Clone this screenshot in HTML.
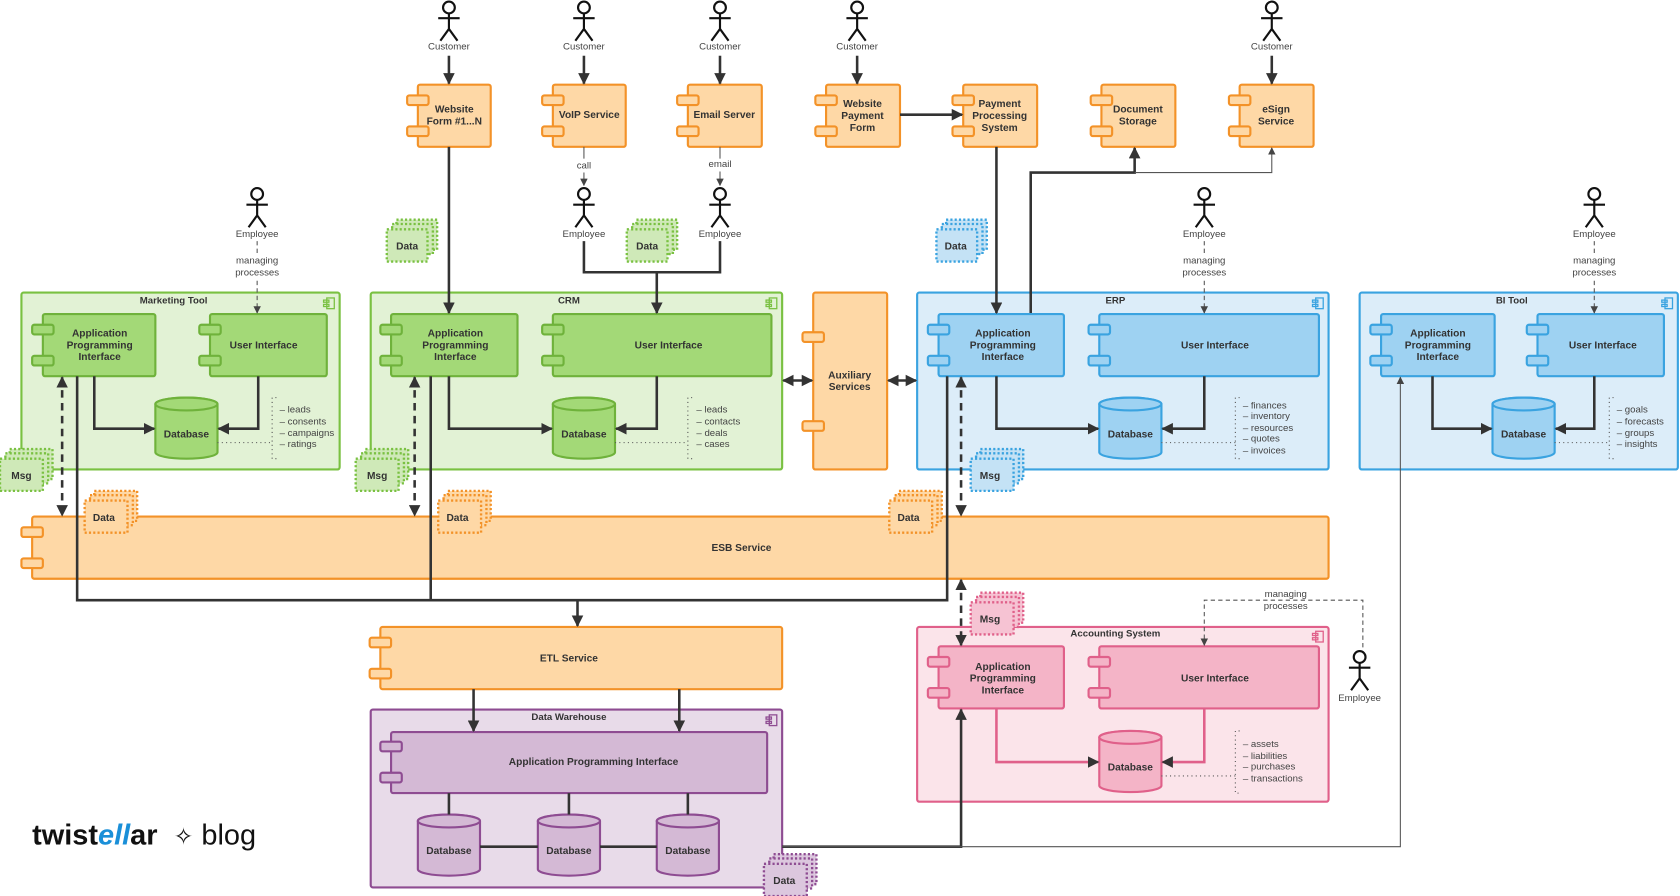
<!DOCTYPE html>
<html><head><meta charset="utf-8"><style>
html,body{margin:0;padding:0;background:#fff;}
svg{display:block;}
text{font-family:"Liberation Sans",sans-serif;}
.b{font-weight:bold;font-size:9.5px;fill:#333;text-anchor:middle;}
.t{font-weight:bold;font-size:9px;fill:#333;text-anchor:middle;}
.l{font-size:9px;fill:#444;text-anchor:middle;}
.n{font-size:9px;fill:#444;}
.ln{stroke:#333;stroke-width:2.4;fill:none;}
.th{stroke:#555;stroke-width:1;fill:none;}
.ds{stroke:#333;stroke-width:2.4;fill:none;stroke-dasharray:7 5;}
.dt{stroke:#555;stroke-width:1;fill:none;stroke-dasharray:1 3;}
</style></head><body>
<svg width="1680" height="896" viewBox="0 0 1568 836" preserveAspectRatio="none" xmlns="http://www.w3.org/2000/svg">
<defs>
<marker id="a" viewBox="0 0 10 10" refX="9" refY="5" markerWidth="4.5" markerHeight="4.5" orient="auto-start-reverse"><path d="M0,0L10,5L0,10z" fill="#333"/></marker>
<marker id="s" viewBox="0 0 10 10" refX="9" refY="5" markerWidth="7" markerHeight="7" orient="auto-start-reverse"><path d="M0,0L10,5L0,10z" fill="#444"/></marker>
<g id="actor" stroke="#111" stroke-width="2" fill="none"><circle cx="0" cy="7" r="5.5" fill="#fff"/><path d="M0,12.5V27M-10,17H10M0,27L-8,38M0,27L8,38"/></g>
</defs>

<!-- containers -->
<g stroke-width="2">
<rect x="20" y="273" width="297" height="165" rx="2" fill="#e2f2d5" stroke="#7ac142"/>
<rect x="346" y="273" width="384" height="165" rx="2" fill="#e2f2d5" stroke="#7ac142"/>
<rect x="856" y="273" width="384" height="165" rx="2" fill="#dcedf9" stroke="#3aa3e0"/>
<rect x="1269" y="273" width="297" height="165" rx="2" fill="#dcedf9" stroke="#3aa3e0"/>
<rect x="856" y="585" width="384" height="163" rx="2" fill="#fbe4ea" stroke="#e0608a"/>
<rect x="346" y="662" width="384" height="166" rx="2" fill="#e8dbe9" stroke="#8e4c92"/>
</g>
<text class="t" x="162" y="283">Marketing Tool</text>
<text class="t" x="531" y="283">CRM</text>
<text class="t" x="1041" y="283">ERP</text>
<text class="t" x="1411" y="283">BI Tool</text>
<text class="t" x="1041" y="594">Accounting System</text>
<text class="t" x="531" y="672">Data Warehouse</text>
<!-- container icons -->
<g fill="none" stroke-width="1.2">
<g stroke="#7ac142"><rect x="305" y="278" width="7" height="10"/><rect x="302" y="280" width="5" height="2"/><rect x="302" y="284" width="5" height="2"/></g>
<g stroke="#7ac142"><rect x="718" y="278" width="7" height="10"/><rect x="715" y="280" width="5" height="2"/><rect x="715" y="284" width="5" height="2"/></g>
<g stroke="#3aa3e0"><rect x="1228" y="278" width="7" height="10"/><rect x="1225" y="280" width="5" height="2"/><rect x="1225" y="284" width="5" height="2"/></g>
<g stroke="#3aa3e0"><rect x="1554" y="278" width="7" height="10"/><rect x="1551" y="280" width="5" height="2"/><rect x="1551" y="284" width="5" height="2"/></g>
<g stroke="#e0608a"><rect x="1228" y="589" width="7" height="10"/><rect x="1225" y="591" width="5" height="2"/><rect x="1225" y="595" width="5" height="2"/></g>
<g stroke="#8e4c92"><rect x="718" y="667" width="7" height="10"/><rect x="715" y="669" width="5" height="2"/><rect x="715" y="673" width="5" height="2"/></g>
</g>

<!-- components: orange -->
<g fill="#fed8a6" stroke="#f39228" stroke-width="2">
<rect x="390" y="79" width="68" height="58" rx="2"/><rect x="380" y="89" width="20" height="9" rx="2"/><rect x="380" y="118" width="20" height="9" rx="2"/>
<rect x="516" y="79" width="68" height="58" rx="2"/><rect x="506" y="89" width="20" height="9" rx="2"/><rect x="506" y="118" width="20" height="9" rx="2"/>
<rect x="642" y="79" width="69" height="58" rx="2"/><rect x="632" y="89" width="20" height="9" rx="2"/><rect x="632" y="118" width="20" height="9" rx="2"/>
<rect x="771" y="79" width="69" height="58" rx="2"/><rect x="761" y="89" width="20" height="9" rx="2"/><rect x="761" y="118" width="20" height="9" rx="2"/>
<rect x="899" y="79" width="69" height="58" rx="2"/><rect x="889" y="89" width="20" height="9" rx="2"/><rect x="889" y="118" width="20" height="9" rx="2"/>
<rect x="1028" y="79" width="69" height="58" rx="2"/><rect x="1018" y="89" width="20" height="9" rx="2"/><rect x="1018" y="118" width="20" height="9" rx="2"/>
<rect x="1157" y="79" width="69" height="58" rx="2"/><rect x="1147" y="89" width="20" height="9" rx="2"/><rect x="1147" y="118" width="20" height="9" rx="2"/>
<rect x="759" y="273" width="69" height="165" rx="2"/><rect x="749" y="310" width="20" height="9" rx="2"/><rect x="749" y="393" width="20" height="9" rx="2"/>
<rect x="30" y="482" width="1210" height="58" rx="2"/><rect x="20" y="492" width="20" height="9" rx="2"/><rect x="20" y="521" width="20" height="9" rx="2"/>
<rect x="355" y="585" width="375" height="58" rx="2"/><rect x="345" y="595" width="20" height="9" rx="2"/><rect x="345" y="624" width="20" height="9" rx="2"/>
</g>
<text class="b" x="424" y="105">Website</text><text class="b" x="424" y="116">Form #1...N</text>
<text class="b" x="550" y="110">VoIP Service</text>
<text class="b" x="676" y="110">Email Server</text>
<text class="b" x="805" y="100">Website</text><text class="b" x="805" y="111">Payment</text><text class="b" x="805" y="122">Form</text>
<text class="b" x="933" y="100">Payment</text><text class="b" x="933" y="111">Processing</text><text class="b" x="933" y="122">System</text>
<text class="b" x="1062" y="105">Document</text><text class="b" x="1062" y="116">Storage</text>
<text class="b" x="1191" y="105">eSign</text><text class="b" x="1191" y="116">Service</text>
<text class="b" x="793" y="353">Auxiliary</text><text class="b" x="793" y="364">Services</text>
<text class="b" x="692" y="514">ESB Service</text>
<text class="b" x="531" y="617">ETL Service</text>

<!-- green components -->
<g fill="#a3d977" stroke="#6fb23b" stroke-width="2">
<rect x="40" y="293" width="105" height="58" rx="2"/><rect x="30" y="303" width="20" height="9" rx="2"/><rect x="30" y="332" width="20" height="9" rx="2"/>
<rect x="196" y="293" width="109" height="58" rx="2"/><rect x="186" y="303" width="20" height="9" rx="2"/><rect x="186" y="332" width="20" height="9" rx="2"/>
<rect x="365" y="293" width="118" height="58" rx="2"/><rect x="355" y="303" width="20" height="9" rx="2"/><rect x="355" y="332" width="20" height="9" rx="2"/>
<rect x="516" y="293" width="204" height="58" rx="2"/><rect x="506" y="303" width="20" height="9" rx="2"/><rect x="506" y="332" width="20" height="9" rx="2"/>
<path d="M145,377v45a29,6 0 0 0 58,0v-45a29,6 0 0 0 -58,0z"/><ellipse cx="174" cy="377" rx="29" ry="6"/>
<path d="M516,377v45a29,6 0 0 0 58,0v-45a29,6 0 0 0 -58,0z"/><ellipse cx="545" cy="377" rx="29" ry="6"/>
</g>
<!-- blue -->
<g fill="#9ed2f2" stroke="#3aa3e0" stroke-width="2">
<rect x="876" y="293" width="117" height="58" rx="2"/><rect x="866" y="303" width="20" height="9" rx="2"/><rect x="866" y="332" width="20" height="9" rx="2"/>
<rect x="1026" y="293" width="205" height="58" rx="2"/><rect x="1016" y="303" width="20" height="9" rx="2"/><rect x="1016" y="332" width="20" height="9" rx="2"/>
<rect x="1289" y="293" width="106" height="58" rx="2"/><rect x="1279" y="303" width="20" height="9" rx="2"/><rect x="1279" y="332" width="20" height="9" rx="2"/>
<rect x="1435" y="293" width="118" height="58" rx="2"/><rect x="1425" y="303" width="20" height="9" rx="2"/><rect x="1425" y="332" width="20" height="9" rx="2"/>
<path d="M1026,377v45a29,6 0 0 0 58,0v-45a29,6 0 0 0 -58,0z"/><ellipse cx="1055" cy="377" rx="29" ry="6"/>
<path d="M1393,377v45a29,6 0 0 0 58,0v-45a29,6 0 0 0 -58,0z"/><ellipse cx="1422" cy="377" rx="29" ry="6"/>
</g>
<!-- pink -->
<g fill="#f4b4c7" stroke="#e0608a" stroke-width="2">
<rect x="876" y="603" width="117" height="58" rx="2"/><rect x="866" y="613" width="20" height="9" rx="2"/><rect x="866" y="642" width="20" height="9" rx="2"/>
<rect x="1026" y="603" width="205" height="58" rx="2"/><rect x="1016" y="613" width="20" height="9" rx="2"/><rect x="1016" y="642" width="20" height="9" rx="2"/>
<path d="M1026,688v45a29,6 0 0 0 58,0v-45a29,6 0 0 0 -58,0z"/><ellipse cx="1055" cy="688" rx="29" ry="6"/>
</g>
<!-- purple -->
<g fill="#d4b9d5" stroke="#8e4c92" stroke-width="2">
<rect x="365" y="683" width="351" height="57" rx="2"/><rect x="355" y="692" width="20" height="9" rx="2"/><rect x="355" y="721" width="20" height="9" rx="2"/>
<path d="M390,766v45a29,6 0 0 0 58,0v-45a29,6 0 0 0 -58,0z"/><ellipse cx="419" cy="766" rx="29" ry="6"/>
<path d="M502,766v45a29,6 0 0 0 58,0v-45a29,6 0 0 0 -58,0z"/><ellipse cx="531" cy="766" rx="29" ry="6"/>
<path d="M613,766v45a29,6 0 0 0 58,0v-45a29,6 0 0 0 -58,0z"/><ellipse cx="642" cy="766" rx="29" ry="6"/>
</g>
<g>
<text class="b" x="93" y="314">Application</text><text class="b" x="93" y="325">Programming</text><text class="b" x="93" y="336">Interface</text>
<text class="b" x="246" y="325">User Interface</text>
<text class="b" x="174" y="408">Database</text>
<text class="b" x="425" y="314">Application</text><text class="b" x="425" y="325">Programming</text><text class="b" x="425" y="336">Interface</text>
<text class="b" x="624" y="325">User Interface</text>
<text class="b" x="545" y="408">Database</text>
<text class="b" x="936" y="314">Application</text><text class="b" x="936" y="325">Programming</text><text class="b" x="936" y="336">Interface</text>
<text class="b" x="1134" y="325">User Interface</text>
<text class="b" x="1055" y="408">Database</text>
<text class="b" x="1342" y="314">Application</text><text class="b" x="1342" y="325">Programming</text><text class="b" x="1342" y="336">Interface</text>
<text class="b" x="1496" y="325">User Interface</text>
<text class="b" x="1422" y="408">Database</text>
<text class="b" x="936" y="625">Application</text><text class="b" x="936" y="636">Programming</text><text class="b" x="936" y="647">Interface</text>
<text class="b" x="1134" y="636">User Interface</text>
<text class="b" x="1055" y="719">Database</text>
<text class="b" x="554" y="714">Application Programming Interface</text>
<text class="b" x="419" y="797">Database</text><text class="b" x="531" y="797">Database</text><text class="b" x="642" y="797">Database</text>
</g>

<!-- notes -->
<g>
<path class="dt" d="M258,371H254V428H258M203,413H254"/>
<text class="n" x="261" y="385">– leads</text><text class="n" x="261" y="396">– consents</text><text class="n" x="261" y="407">– campaigns</text><text class="n" x="261" y="417">– ratings</text>
<path class="dt" d="M646,371H642V428H646M574,413H642"/>
<text class="n" x="650" y="385">– leads</text><text class="n" x="650" y="396">– contacts</text><text class="n" x="650" y="407">– deals</text><text class="n" x="650" y="417">– cases</text>
<path class="dt" d="M1157,371H1153V428H1157M1084,413H1153"/>
<text class="n" x="1160" y="381">– finances</text><text class="n" x="1160" y="391">– inventory</text><text class="n" x="1160" y="402">– resources</text><text class="n" x="1160" y="412">– quotes</text><text class="n" x="1160" y="423">– invoices</text>
<path class="dt" d="M1506,371H1502V428H1506M1451,413H1502"/>
<text class="n" x="1509" y="385">– goals</text><text class="n" x="1509" y="396">– forecasts</text><text class="n" x="1509" y="407">– groups</text><text class="n" x="1509" y="417">– insights</text>
<path class="dt" d="M1157,682H1153V740H1157M1084,724H1153"/>
<text class="n" x="1160" y="697">– assets</text><text class="n" x="1160" y="708">– liabilities</text><text class="n" x="1160" y="718">– purchases</text><text class="n" x="1160" y="729">– transactions</text>
</g>

<!-- actors -->
<use href="#actor" x="419" y="0"/><use href="#actor" x="545" y="0"/><use href="#actor" x="672" y="0"/><use href="#actor" x="800" y="0"/><use href="#actor" x="1187" y="0"/>
<text class="l" x="419" y="46">Customer</text><text class="l" x="545" y="46">Customer</text><text class="l" x="672" y="46">Customer</text><text class="l" x="800" y="46">Customer</text><text class="l" x="1187" y="46">Customer</text>
<use href="#actor" x="545" y="174"/><use href="#actor" x="672" y="174"/><use href="#actor" x="240" y="174"/><use href="#actor" x="1124" y="174"/><use href="#actor" x="1488" y="174"/><use href="#actor" x="1269" y="606"/>
<text class="l" x="545" y="221">Employee</text><text class="l" x="672" y="221">Employee</text><text class="l" x="240" y="221">Employee</text><text class="l" x="1124" y="221">Employee</text><text class="l" x="1488" y="221">Employee</text><text class="l" x="1269" y="654">Employee</text>
<text class="l" x="240" y="246">managing</text><text class="l" x="240" y="257">processes</text>
<text class="l" x="1124" y="246">managing</text><text class="l" x="1124" y="257">processes</text>
<text class="l" x="1488" y="246">managing</text><text class="l" x="1488" y="257">processes</text>
<text class="l" x="1200" y="557">managing</text><text class="l" x="1200" y="568">processes</text>
<text class="l" x="545" y="157">call</text><text class="l" x="672" y="156">email</text>

<!-- connectors -->
<g marker-end="url(#a)">
<path class="ln" d="M419,52V78"/><path class="ln" d="M545,52V78"/><path class="ln" d="M672,52V78"/><path class="ln" d="M800,52V78"/><path class="ln" d="M1187,52V78"/>
<path class="ln" d="M419,137V292"/>
<path class="ln" d="M840,107H898"/>
<path class="ln" d="M930,137V292"/>
<path class="ln" d="M962,292V161H1059V138"/>
<path class="ln" d="M545,225V254H672V225M613,254V292"/>
<path class="ln" d="M88,351V400H144"/><path class="ln" d="M241,351V400H204"/>
<path class="ln" d="M419,351V400H515"/><path class="ln" d="M613,351V400H575"/>
<path class="ln" d="M930,351V400H1025"/><path class="ln" d="M1124,351V400H1085"/>
<path class="ln" d="M1337,351V400H1392"/><path class="ln" d="M1488,351V400H1452"/>
<path class="ln" d="M539,560V584"/>
<path class="ln" d="M442,643V682"/><path class="ln" d="M634,643V682"/>
<path class="ln" d="M730,790H897V662"/>
</g>
<path d="M930,661V711H1025" stroke="#e0608a" stroke-width="2.4" fill="none" marker-end="url(#a)"/>
<path d="M1124,661V711H1085" stroke="#e0608a" stroke-width="2.4" fill="none" marker-end="url(#a)"/>
<path class="ln" d="M72,351V560H884V351M402,351V560"/>
<path class="ln" d="M419,740V760M531,740V760M642,740V760M448,790H502M560,790H613"/>
<path class="ln" d="M731,355H758" marker-start="url(#a)" marker-end="url(#a)"/>
<path class="ln" d="M829,355H855" marker-start="url(#a)" marker-end="url(#a)"/>
<path class="ds" d="M58,352V481" marker-start="url(#a)" marker-end="url(#a)"/>
<path class="ds" d="M387,352V481" marker-start="url(#a)" marker-end="url(#a)"/>
<path class="ds" d="M897,352V481" marker-start="url(#a)" marker-end="url(#a)"/>
<path class="ds" d="M897,541V602" marker-start="url(#a)" marker-end="url(#a)"/>
<g marker-end="url(#s)">
<path class="th" d="M545,137V148M545,161V173"/><path class="th" d="M672,137V148M672,160V173"/>
<path class="th" d="M1059,161H1187V138"/>
<path class="th" d="M730,790H1307V352"/>
<path class="th" d="M240,225V238M240,262V292" stroke-dasharray="4 3"/>
<path class="th" d="M1124,225V238M1124,262V292" stroke-dasharray="4 3"/>
<path class="th" d="M1488,225V238M1488,262V292" stroke-dasharray="4 3"/>
<path class="th" d="M1272,604V560H1124V602" stroke-dasharray="4 3"/>
</g>

<!-- doc stacks -->
<g stroke-width="2.2" stroke-dasharray="2 2">
<g fill="#cfe9b8" stroke="#7ac142">
<rect x="370" y="205" width="38" height="28"/><rect x="366" y="209" width="38" height="28"/><rect x="361" y="214" width="38" height="30"/>
<rect x="594" y="205" width="38" height="28"/><rect x="590" y="209" width="38" height="28"/><rect x="585" y="214" width="38" height="30"/>
<rect x="9" y="419" width="40" height="28"/><rect x="5" y="423" width="40" height="28"/><rect x="0" y="428" width="40" height="30"/>
<rect x="341" y="419" width="40" height="28"/><rect x="337" y="423" width="40" height="28"/><rect x="332" y="428" width="40" height="30"/>
</g>
<g fill="#c4e2f5" stroke="#3aa3e0">
<rect x="883" y="205" width="38" height="28"/><rect x="879" y="209" width="38" height="28"/><rect x="874" y="214" width="38" height="30"/>
<rect x="915" y="419" width="40" height="28"/><rect x="911" y="423" width="40" height="28"/><rect x="906" y="428" width="40" height="30"/>
</g>
<g fill="#fed8a6" stroke="#f39228">
<rect x="88" y="458" width="40" height="28"/><rect x="84" y="462" width="40" height="28"/><rect x="79" y="467" width="40" height="30"/>
<rect x="418" y="458" width="40" height="28"/><rect x="414" y="462" width="40" height="28"/><rect x="409" y="467" width="40" height="30"/>
<rect x="839" y="458" width="40" height="28"/><rect x="835" y="462" width="40" height="28"/><rect x="830" y="467" width="40" height="30"/>
</g>
<g fill="#f6c3d3" stroke="#e0608a">
<rect x="915" y="553" width="40" height="28"/><rect x="911" y="557" width="40" height="28"/><rect x="906" y="562" width="40" height="30"/>
</g>
<g fill="#dcc7de" stroke="#8e4c92">
<rect x="722" y="797" width="40" height="28"/><rect x="718" y="801" width="40" height="28"/><rect x="713" y="806" width="40" height="30"/>
</g>
</g>
<text class="b" x="380" y="233">Data</text><text class="b" x="604" y="233">Data</text><text class="b" x="892" y="233">Data</text>
<text class="b" x="20" y="447">Msg</text><text class="b" x="352" y="447">Msg</text><text class="b" x="924" y="447">Msg</text>
<text class="b" x="97" y="486">Data</text><text class="b" x="427" y="486">Data</text><text class="b" x="848" y="486">Data</text>
<text class="b" x="924" y="581">Msg</text><text class="b" x="732" y="825">Data</text>

<!-- logo -->
<text x="30" y="788" style="font-family:'Liberation Sans',sans-serif;font-size:27px;font-weight:bold;fill:#111;">twist<tspan fill="#1a8fd8" font-style="italic">ell</tspan>ar</text>
<text x="162" y="788" style="font-family:'DejaVu Sans',sans-serif;font-size:22px;fill:#111;">✧</text>
<text x="188" y="788" style="font-family:'Liberation Sans',sans-serif;font-size:27px;fill:#111;">blog</text>
</svg>
</body></html>
